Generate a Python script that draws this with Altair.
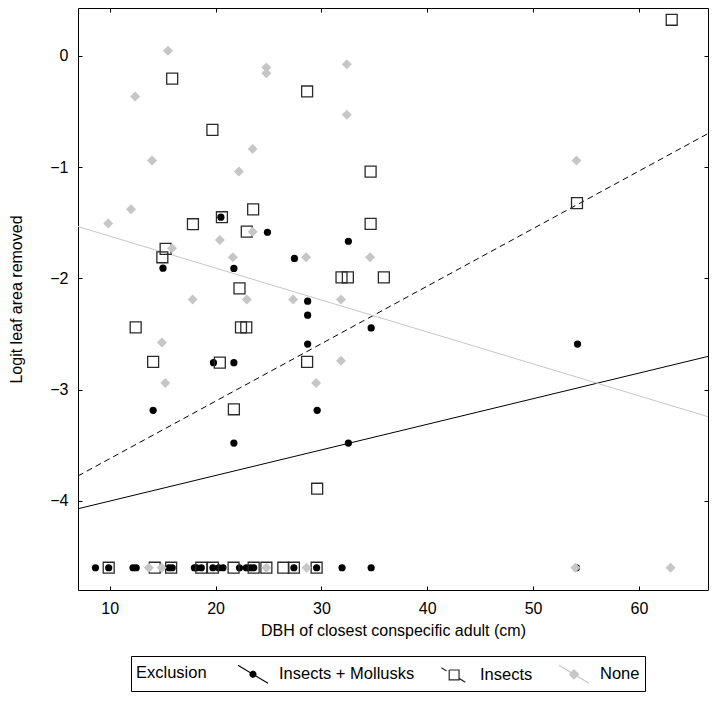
import math
import altair as alt
import pandas as pd

GROUPS = ["Insects + Mollusks", "Insects", "None"]

# Insects + Mollusks exclusion (black dots)
im_x = [20.5, 24.9, 32.55, 15.03, 21.73, 27.45, 28.7, 28.7, 34.7, 28.7, 19.8, 21.73,
        14.1, 29.6, 21.73, 32.55, 54.2,
        8.65, 9.9, 12.2, 12.5, 15.6, 15.9, 18.0, 18.2, 18.65, 19.75, 20.3, 20.7,
        22.26, 22.9, 23.3, 23.6, 27.4, 29.55, 31.95, 34.7, 54.1]
im_y = [-1.45, -1.585, -1.666, -1.908, -1.91, -1.82, -2.205, -2.33, -2.445, -2.59, -2.757, -2.757,
        -3.185, -3.185, -3.48, -3.48, -2.59,
        -4.6, -4.6, -4.6, -4.6, -4.6, -4.6, -4.6, -4.6, -4.6, -4.6, -4.6, -4.6,
        -4.6, -4.6, -4.6, -4.6, -4.6, -4.6, -4.6, -4.6, -4.6]

# Insects exclusion (open squares)
ins_x = [15.9, 19.7, 28.65, 34.65, 63.1, 17.86, 20.6, 23.55, 22.95, 34.65, 15.28, 14.97,
         31.9, 32.5, 35.9, 22.26, 12.45, 22.4, 22.9, 14.1, 20.4, 28.65, 21.73, 29.6, 54.15,
         9.9, 14.25, 15.8, 18.65, 19.75, 21.7, 23.6, 24.8, 26.4, 27.4, 29.55]
ins_y = [-0.204, -0.665, -0.32, -1.04, 0.324, -1.513, -1.45, -1.38, -1.58, -1.51, -1.735, -1.81,
         -1.99, -1.99, -1.99, -2.09, -2.44, -2.44, -2.44, -2.75, -2.757, -2.75, -3.176, -3.89, -1.324,
         -4.6, -4.6, -4.6, -4.6, -4.6, -4.6, -4.6, -4.6, -4.6, -4.6, -4.6]

# No exclusion (grey diamonds)
none_x = [12.4, 15.5, 14.0, 24.8, 24.8, 23.5, 22.2, 32.4, 32.4, 9.85, 12.0, 20.4, 23.5,
          15.88, 21.63, 28.55, 34.6, 17.83, 22.95, 27.33, 31.85, 14.93, 31.85, 15.25, 29.5, 54.1,
          13.7, 14.9, 24.8, 28.6, 54.0, 63.0]
none_y = [-0.366, 0.045, -0.94, -0.105, -0.156, -0.836, -1.04, -0.075, -0.53, -1.507, -1.378, -1.654, -1.58,
          -1.73, -1.81, -1.81, -1.81, -2.19, -2.19, -2.19, -2.19, -2.577, -2.74, -2.94, -2.94, -0.94,
          -4.6, -4.6, -4.6, -4.6, -4.6, -4.6]

# fitted lines (end points at the plot edges)
line_x = [7, 67]
im_line_y = [-4.07, -2.69]
ins_line_y = [-3.775, -0.674]
none_line_y = [-1.534, -3.256]

x_ticks = [10, 20, 30, 40, 50, 60]
y_ticks = [-4, -3, -2, -1, 0]

dots = pd.DataFrame({"x": im_x, "y": im_y})
squares = pd.DataFrame({"x": ins_x, "y": ins_y})
diamonds = pd.DataFrame({"x": none_x, "y": none_y})
im_line = pd.DataFrame({"x": line_x, "y": im_line_y})
ins_line = pd.DataFrame({"x": line_x, "y": ins_line_y})
none_line = pd.DataFrame({"x": line_x, "y": none_line_y})
legend_df = pd.DataFrame({"group": GROUPS, "x": [30, 30, 30], "y": [-2, -2, -2]})

xs = alt.Scale(domain=[7, 66.53], nice=False, zero=False)
ys = alt.Scale(domain=[-4.8, 0.43], nice=False, zero=False)
FONT = "Liberation Sans"
GREY = "#c6c6c6"

main_x_axis = alt.Axis(values=x_ticks, orient="bottom", domain=False, grid=False, tickSize=4,
                       offset=-4, labelPadding=10, labelFontSize=16, labelColor="black",
                       tickColor="black", title="DBH of closest conspecific adult (cm)",
                       titleFontSize=16, titleFontWeight="normal", titleColor="black",
                       titlePadding=6, labelFont=FONT, titleFont=FONT)
main_y_axis = alt.Axis(values=y_ticks, orient="left", domain=False, grid=False, tickSize=4,
                       offset=-4, labelPadding=10, labelFontSize=16, labelColor="black",
                       tickColor="black", title="Logit leaf area removed",
                       titleFontSize=16, titleFontWeight="normal", titleColor="black",
                       titlePadding=25, labelFont=FONT, titleFont=FONT)
top_axis = alt.Axis(values=x_ticks, orient="top", domain=False, grid=False, tickSize=4,
                    offset=-4, labels=False, title=None, tickColor="black")
right_axis = alt.Axis(values=y_ticks, orient="right", domain=False, grid=False, tickSize=4,
                      offset=-4, labels=False, title=None, tickColor="black")


def xy(axis_x=None, axis_y=None):
    return dict(x=alt.X("x:Q", scale=xs, axis=axis_x), y=alt.Y("y:Q", scale=ys, axis=axis_y))


im_line_layer = alt.Chart(im_line).mark_line(strokeWidth=1, color="black", clip=True).encode(
    **xy(main_x_axis, main_y_axis))
ins_line_layer = alt.Chart(ins_line).mark_line(strokeWidth=1, color="black", strokeDash=[6, 4],
                                               clip=True).encode(**xy())
none_line_layer = alt.Chart(none_line).mark_line(strokeWidth=1, color=GREY, clip=True).encode(**xy())

dot_layer = alt.Chart(dots).mark_point(shape="circle", filled=True, color="black", size=52,
                                       opacity=1).encode(**xy())
square_layer = alt.Chart(squares).mark_point(shape="square", filled=False, color="#2a2a2a",
                                             strokeWidth=1.3, size=120, opacity=1).encode(**xy())
diamond_layer = alt.Chart(diamonds).mark_point(shape="diamond", filled=True, color=GREY, size=100,
                                               opacity=1).encode(**xy())


def f(v):
    return f"{v:.3f}"


def ring(r, n=14):
    pts = [(r * math.cos(2 * math.pi * k / n), r * math.sin(2 * math.pi * k / n)) for k in range(n)]
    return "M" + "L".join(f"{f(a)},{f(b)}" for a, b in pts) + "L" + f"{f(r)},0"


def rhomb(r):
    return f"M{f(-r)},0L0,{f(-r)}L{f(r)},0L0,{f(r)}L{f(-r)},0"


# legend keys: stroked paths (a diagonal line plus the marker, filled via nested outlines)
SYM_IM = "M-1.25,-0.75L1.25,0.75" + "".join(ring(r) for r in [0.04, 0.11, 0.18, 0.25])
SYM_INS = ("M-1.05,-0.63L-0.62,-0.37"
           "M-0.4,-0.45L0.42,-0.45L0.42,0.37L-0.4,0.37L-0.4,-0.45"
           "M0.45,0.27L0.95,0.57")
SYM_NONE = "M-1.25,-0.75L1.25,0.75" + "".join(rhomb(r) for r in [0.06, 0.14, 0.22, 0.30, 0.38])

# invisible layer that only carries the legend (and the tick-only top/right axes)
legend_layer = alt.Chart(legend_df).mark_point(size=576, opacity=0, strokeWidth=1.2, filled=False).encode(
    **xy(top_axis, right_axis),
    color=alt.Color("group:N", scale=alt.Scale(domain=GROUPS, range=["black", "#2a2a2a", GREY]),
                    title="Exclusion"),
    shape=alt.Shape("group:N", scale=alt.Scale(domain=GROUPS, range=[SYM_IM, SYM_INS, SYM_NONE]),
                    title="Exclusion"),
)

chart = alt.layer(im_line_layer, ins_line_layer, none_line_layer, dot_layer, square_layer,
                  diamond_layer, legend_layer).resolve_axis(
    x="independent", y="independent"
).properties(
    width=630, height=582,
    autosize=alt.AutoSizeParams(type="none"),
    padding={"left": 70, "top": 0, "right": 1, "bottom": 102},
).configure_view(
    stroke="black", strokeWidth=1
).configure_legend(
    orient="none", legendX=53, legendY=648, direction="horizontal", titleOrient="left",
    padding=5, strokeColor="black", fillColor="white", symbolSize=576, symbolStrokeWidth=1.2,
    symbolOpacity=1, columnPadding=23, labelOffset=13, titlePadding=33, labelFontSize=16.5,
    titleFontSize=16.5, titleFontWeight="normal", labelFont=FONT, titleFont=FONT, labelColor="black",
    titleColor="black", titleBaseline="middle", labelLimit=300,
)

chart.save("out.html", embed_options={"renderer": "svg", "actions": False})
